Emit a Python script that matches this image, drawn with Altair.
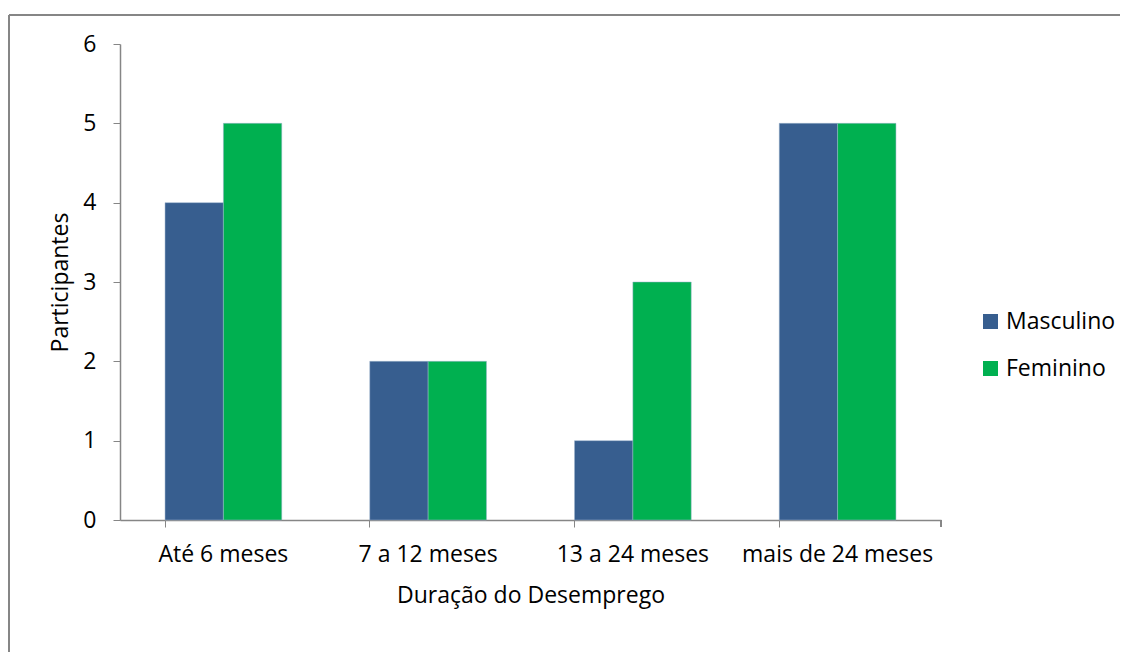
import altair as alt
import pandas as pd

categories = ["Até 6 meses", "7 a 12 meses", "13 a 24 meses", "mais de 24 meses"]
masculino = [4, 2, 1, 5]
feminino = [5, 2, 3, 5]
series = ["Masculino", "Feminino"]
colors = ["#375E8F", "#00B050"]

rows = []
for c, m, f in zip(categories, masculino, feminino):
    rows.append({"cat": c, "sexo": "Masculino", "val": m})
    rows.append({"cat": c, "sexo": "Feminino", "val": f})
df = pd.DataFrame(rows)

FONT = "Open Sans"
FS = 23
W, H = 821, 476

bars = alt.Chart(df).mark_bar(stroke="#9DB3CC", strokeWidth=0.5).encode(
    x=alt.X("cat:N", sort=categories,
            scale=alt.Scale(paddingInner=0.43, paddingOuter=0.22),
            axis=alt.Axis(title="Duração do Desemprego", labelAngle=0,
                          bandPosition=0, tickSize=7, labelPadding=16,
                          titlePadding=18, labelLimit=0)),
    xOffset=alt.XOffset("sexo:N", sort=series),
    y=alt.Y("val:Q", scale=alt.Scale(domain=[0, 6]),
            axis=alt.Axis(title="Participantes", values=[0, 1, 2, 3, 4, 5, 6],
                          tickSize=7, labelPadding=17, titlePadding=10,
                          grid=False)),
    color=alt.Color("sexo:N", sort=series,
                    scale=alt.Scale(domain=series, range=colors),
                    legend=alt.Legend(title=None, orient="none",
                                      legendX=859, legendY=266,
                                      symbolType="square", symbolSize=225,
                                      symbolStrokeWidth=0,
                                      labelFontSize=FS, labelFont=FONT,
                                      rowPadding=23, labelOffset=4)),
)

end_tick = alt.Chart(df).mark_rule(color="#868686", strokeWidth=1).encode(
    x=alt.value(W), y=alt.value(H), y2=alt.value(H + 7)
)
top_border = alt.Chart(df).mark_rule(color="#868686", strokeWidth=2).encode(
    x=alt.value(-111), x2=alt.value(1000), y=alt.value(-29)
)
left_border = alt.Chart(df).mark_rule(color="#868686", strokeWidth=2).encode(
    x=alt.value(-111), y=alt.value(-29), y2=alt.value(608)
)

chart = alt.layer(top_border, left_border, bars, end_tick).properties(
    width=W, height=H,
    padding={"left": 0, "top": 6, "right": 0, "bottom": 0},
).configure_view(stroke=None).configure_axis(
    domainColor="#868686", tickColor="#868686", domainWidth=1.5,
    labelFont=FONT, titleFont=FONT, labelFontSize=FS, titleFontSize=FS,
    labelColor="#000000", titleColor="#000000", titleFontWeight="normal",
).configure_legend(labelColor="#000000")

chart.save("out.html", embed_options={"renderer": "svg", "actions": False})
